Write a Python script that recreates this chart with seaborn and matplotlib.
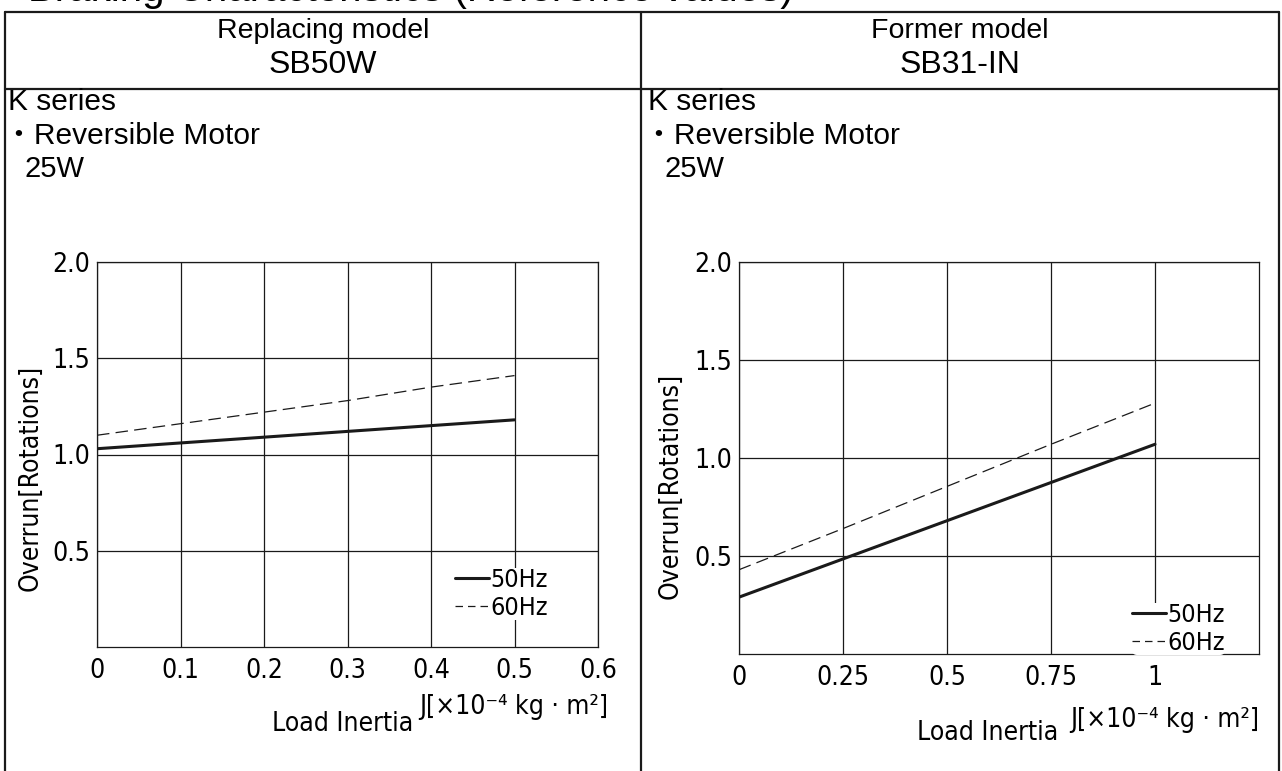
import matplotlib
matplotlib.use("Agg")
import matplotlib.pyplot as plt
from matplotlib.lines import Line2D
from matplotlib import font_manager as fm
import seaborn as sns
import pandas as pd

# ---------------- data ----------------
left_x = [0.0, 0.1, 0.2, 0.3, 0.4, 0.5]
left_50hz = [1.03, 1.06, 1.09, 1.12, 1.15, 1.18]
left_60hz = [1.10, 1.16, 1.22, 1.28, 1.35, 1.41]

right_x = [0.0, 0.25, 0.5, 0.75, 1.0]
right_50hz = [0.29, 0.485, 0.68, 0.875, 1.07]
right_60hz = [0.43, 0.64, 0.855, 1.07, 1.28]

left_xticks = [0, 0.1, 0.2, 0.3, 0.4, 0.5, 0.6]
left_xticklabels = ["0", "0.1", "0.2", "0.3", "0.4", "0.5", "0.6"]
right_xticks = [0, 0.25, 0.5, 0.75, 1.0]
right_xticklabels = ["0", "0.25", "0.5", "0.75", "1"]
yticks = [0.5, 1.0, 1.5, 2.0]
yticklabels = ["0.5", "1.0", "1.5", "2.0"]
series_labels = ["50Hz", "60Hz"]

# ---------------- style ----------------
sns.set_theme(style="white")
for k in ["text.color", "axes.labelcolor", "xtick.color", "ytick.color"]:
    plt.rcParams[k] = "black"

cond = [f for f in fm.fontManager.ttflist
        if ("Narrow" in f.name or "Condensed" in f.name
            or str(f.stretch) in ("condensed", "semi-condensed", "extra-condensed"))
        and "Mono" not in f.name and "Serif" not in f.name
        and f.style == "normal" and f.weight in (400, "normal", "regular")]
if cond:
    CAD = [cond[0].name, "DejaVu Sans"]
    CAD_STRETCH = cond[0].stretch
    CAD_SIZE = 19
else:
    CAD = ["DejaVu Sans"]
    CAD_STRETCH = "normal"
    CAD_SIZE = 17

TXT = ["Liberation Sans", "DejaVu Sans"]
plt.rcParams["font.family"] = TXT

W, H = 1282, 771
fig = plt.figure(figsize=(W / 100, H / 100), dpi=100)
fig.patch.set_facecolor("white")


def fx(px):
    return px / W


def fy(py):
    return 1 - py / H


def hline(y, x0, x1, lw=1.6):
    fig.add_artist(Line2D([fx(x0), fx(x1)], [fy(y), fy(y)], color="k", lw=lw,
                          transform=fig.transFigure))


def vline(x, y0, y1, lw=1.6):
    fig.add_artist(Line2D([fx(x), fx(x)], [fy(y0), fy(y1)], color="k", lw=lw,
                          transform=fig.transFigure))


def cadprops(size):
    return fm.FontProperties(family=CAD, size=size, stretch=CAD_STRETCH)


# table frame
hline(12, 5, 1279)
hline(89, 5, 1279)
vline(5, 12, 771)
vline(641, 12, 771)
vline(1279, 12, 771)

# cut-off title at top (as in the reference)
fig.text(fx(28), fy(1), "Braking Characteristics (Reference values)", fontsize=29,
         ha="left", va="baseline", family=TXT)

# headers
for cx, l1, l2 in [(323, "Replacing model", "SB50W"), (960, "Former model", "SB31-IN")]:
    fig.text(fx(cx), fy(31), l1, fontsize=20.5, ha="center", va="center", family=TXT)
    fig.text(fx(cx), fy(65), l2, fontsize=23, ha="center", va="center", family=TXT)

for x0 in [8, 648]:
    fig.text(fx(x0), fy(102), "K series", fontsize=21.5, ha="left", va="center", family=TXT)
    fig.text(fx(x0 - 4), fy(136), "・Reversible Motor", fontsize=21.5, ha="left",
             va="center", family=["Liberation Sans", "Noto Sans CJK JP", "DejaVu Sans"])
    fig.text(fx(x0 + 16), fy(169), "25W", fontsize=21, ha="left", va="center", family=TXT)

# ---------------- axes ----------------
ax1 = fig.add_axes([fx(97), fy(647), fx(598) - fx(97), fy(262) - fy(647)])
ax2 = fig.add_axes([fx(739), fy(654), fx(1259) - fx(739), fy(262) - fy(654)])

DASH = (0, (10, 5))
panels = [
    (ax1, left_x, left_50hz, left_60hz, (0, 0.6), left_xticks, left_xticklabels,
     (-0.106, 0.44), (0.49, -0.166), (1.02, -0.155), (0.715, 0.205)),
    (ax2, right_x, right_50hz, right_60hz, (0, 1.25), right_xticks, right_xticklabels,
     (-0.107, 0.43), (0.479, -0.168), (1.0, -0.168), (0.756, 0.130)),
]

for (ax, xs, y50, y60, xlim, xt, xtl, ylab_pos, xlab_pos, jpos, legpos) in panels:
    df = pd.DataFrame({"J": xs, "50Hz": y50, "60Hz": y60})
    sns.lineplot(data=df, x="J", y="50Hz", ax=ax, color="k", lw=2.2, legend=False)
    sns.lineplot(data=df, x="J", y="60Hz", ax=ax, color="k", lw=0.9, linestyle=DASH,
                 legend=False)
    ax.set_xlim(*xlim)
    ax.set_ylim(0, 2.0)
    ax.set_xticks(xt)
    ax.set_xticklabels(xtl)
    ax.set_yticks(yticks)
    ax.set_yticklabels(yticklabels)
    ax.tick_params(axis="x", length=0, pad=8, labelsize=CAD_SIZE, colors="black")
    ax.tick_params(axis="y", length=0, pad=5, labelsize=CAD_SIZE, colors="black")
    for lab in ax.get_xticklabels() + ax.get_yticklabels():
        lab.set_fontproperties(cadprops(CAD_SIZE))
    ax.grid(True, color="k", lw=0.9)
    for s in ax.spines.values():
        s.set_visible(True)
        s.set_color("k")
        s.set_linewidth(0.9)
    ax.set_ylabel("Overrun[Rotations]", fontproperties=cadprops(CAD_SIZE), color="black")
    ax.yaxis.set_label_coords(*ylab_pos)
    ax.set_xlabel("Load Inertia", fontproperties=cadprops(CAD_SIZE), color="black")
    ax.xaxis.set_label_coords(*xlab_pos)
    ax.text(jpos[0], jpos[1], "J[×10⁻⁴ kg · m²]", transform=ax.transAxes, ha="right",
            va="center", fontproperties=cadprops(CAD_SIZE), color="black")
    handles = [Line2D([], [], color="k", lw=2.2),
               Line2D([], [], color="k", lw=0.9, linestyle=(0, (6, 4)))]
    leg = ax.legend(handles, series_labels, loc="upper left", bbox_to_anchor=legpos,
                    frameon=True, borderpad=0.0, handlelength=1.35, handletextpad=0.05,
                    labelspacing=0.15, borderaxespad=0, prop=cadprops(CAD_SIZE - 1))
    for t in leg.get_texts():
        t.set_color("black")
    leg.get_frame().set_facecolor("white")
    leg.get_frame().set_edgecolor("none")
    leg.get_frame().set_alpha(1)

fig.savefig("out.png", dpi=100, facecolor="white")
